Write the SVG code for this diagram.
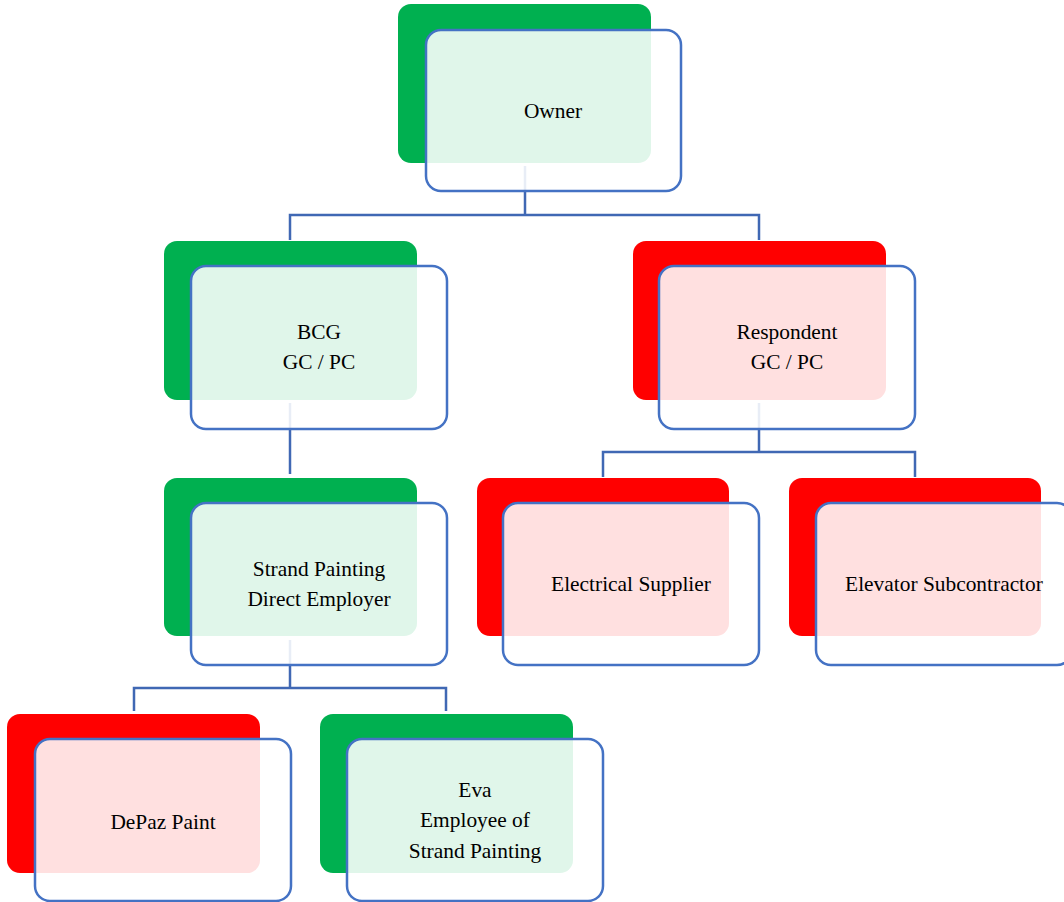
<svg xmlns="http://www.w3.org/2000/svg" width="1064" height="902" viewBox="0 0 1064 902">
<style>
.g{fill:#00B050}
.r{fill:#FF0000}
.f{fill:#FFFFFF;fill-opacity:0.88;stroke:#4472C4;stroke-width:2.5}
.c{fill:none;stroke:#4068B4;stroke-width:2.5}
text{font-family:"Liberation Serif","Times New Roman",serif;font-size:21.4px;fill:#000;text-anchor:middle}
</style>
<rect width="1064" height="902" fill="#FFFFFF"/>
<g id="backs">
<rect class="g" x="398" y="4" width="253" height="159" rx="13"/>
<rect class="g" x="164" y="241" width="253" height="159" rx="13"/>
<rect class="r" x="633" y="241" width="253" height="159" rx="13"/>
<rect class="g" x="164" y="478" width="253" height="158" rx="13"/>
<rect class="r" x="477" y="478" width="252" height="158" rx="13"/>
<rect class="r" x="789" y="478" width="252" height="158" rx="13"/>
<rect class="r" x="7" y="714" width="253" height="159" rx="13"/>
<rect class="g" x="320" y="714" width="253" height="159" rx="13"/>
</g>
<g id="connectors">
<path class="c" d="M525 166V215M290 240V215H759V240"/>
<path class="c" d="M290 403V474"/>
<path class="c" d="M759 403V452M603 477V452H915V477"/>
<path class="c" d="M290 640V688M134 711V688H446V711"/>
</g>
<g id="owner">
<rect class="f" x="426" y="30" width="255" height="161" rx="15"/>
<text x="553" y="118">Owner</text>
</g>
<g id="bcg">
<rect class="f" x="191" y="266" width="256" height="163" rx="15"/>
<text x="319" y="339">BCG</text>
<text x="319" y="369">GC / PC</text>
</g>
<g id="respondent">
<rect class="f" x="659" y="266" width="256" height="163" rx="15"/>
<text x="787" y="339">Respondent</text>
<text x="787" y="369">GC / PC</text>
</g>
<g id="strand">
<rect class="f" x="191" y="503" width="256" height="162" rx="15"/>
<text x="319" y="576">Strand Painting</text>
<text x="319" y="606">Direct Employer</text>
</g>
<g id="electrical">
<rect class="f" x="503" y="503" width="256" height="162" rx="15"/>
<text x="631" y="591">Electrical Supplier</text>
</g>
<g id="elevator">
<rect class="f" x="816" y="503" width="256" height="162" rx="15"/>
<text x="944" y="591">Elevator Subcontractor</text>
</g>
<g id="depaz">
<rect class="f" x="35" y="739" width="256" height="162" rx="15"/>
<text x="163" y="829">DePaz Paint</text>
</g>
<g id="eva">
<rect class="f" x="347" y="739" width="256" height="162" rx="15"/>
<text x="475" y="797">Eva</text>
<text x="475" y="827">Employee of</text>
<text x="475" y="858">Strand Painting</text>
</g>
</svg>
